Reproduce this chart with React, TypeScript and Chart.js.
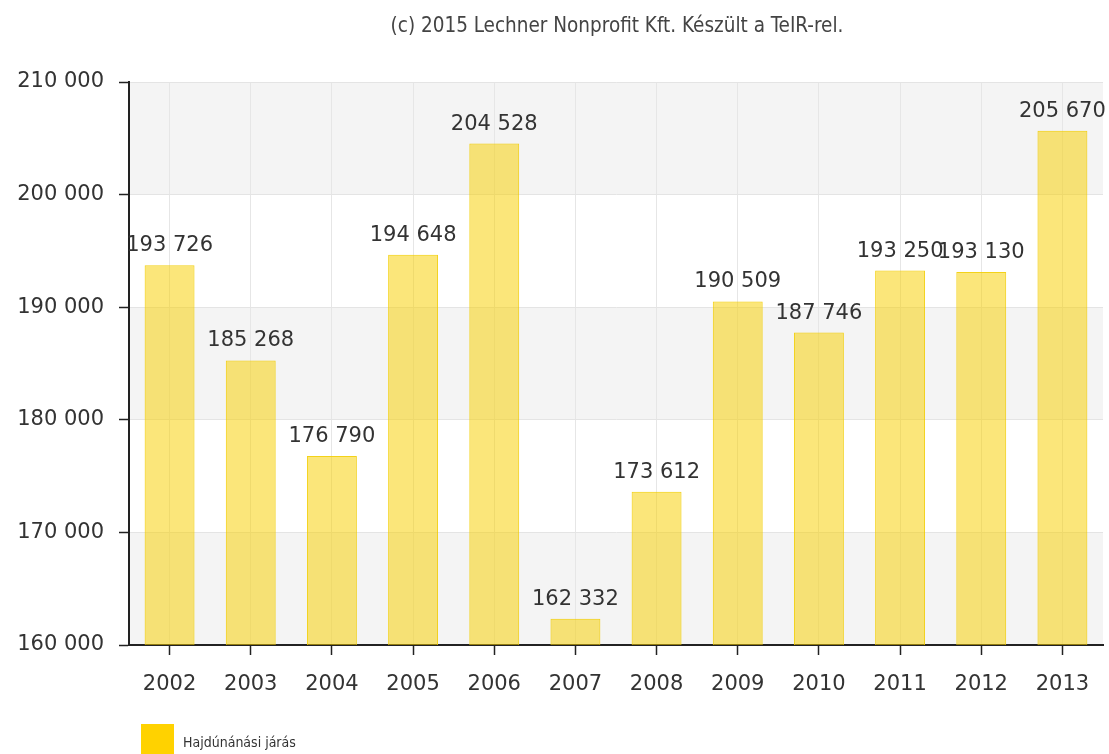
import React, { useEffect, useRef } from "react";
import { Chart, registerables } from "chart.js";

Chart.register(...registerables);

const categories = ["2002", "2003", "2004", "2005", "2006", "2007", "2008", "2009", "2010", "2011", "2012", "2013"];
const values = [193726, 185268, 176790, 194648, 204528, 162332, 173612, 190509, 187746, 193250, 193130, 205670];
const seriesLabel = "Hajdúnánási járás";
const titleText = "(c) 2015 Lechner Nonprofit Kft. Készült a TeIR-rel.";
const yMin = 160000;
const yMax = 210000;
const yStep = 10000;

const fmt = (v: number) => String(v).replace(/\B(?=(\d{3})+(?!\d))/g, " ");

const bandsPlugin = {
  id: "bands",
  beforeDraw(chart: any) {
    const { ctx, chartArea } = chart;
    const y = chart.scales.y;
    ctx.save();
    ctx.fillStyle = "#f4f4f4";
    let i = 0;
    for (let v = yMin; v < yMax; v += yStep, i++) {
      if (i % 2 === 0) {
        const top = y.getPixelForValue(v + yStep);
        const bot = y.getPixelForValue(v);
        ctx.fillRect(chartArea.left, top, chartArea.right - chartArea.left, bot - top);
      }
    }
    ctx.restore();
  },
};

const labelsPlugin = {
  id: "valueLabels",
  afterDatasetsDraw(chart: any) {
    const { ctx } = chart;
    const meta = chart.getDatasetMeta(0);
    ctx.save();
    ctx.font = "21px 'DejaVu Sans'";
    ctx.fillStyle = "#333333";
    ctx.textAlign = "center";
    ctx.textBaseline = "alphabetic";
    meta.data.forEach((bar: any, i: number) => {
      ctx.fillText(fmt(values[i]), bar.x, bar.y - 14);
    });
    ctx.restore();
  },
};

const titleLegendPlugin = {
  id: "titleLegend",
  afterDraw(chart: any) {
    const { ctx, chartArea } = chart;
    ctx.save();
    ctx.font = "20.5px 'DejaVu Sans Condensed'";
    ctx.fillStyle = "#444444";
    ctx.textAlign = "center";
    ctx.textBaseline = "alphabetic";
    ctx.fillText(titleText, 617, 32);
    // legend
    ctx.fillStyle = "#ffd200";
    ctx.fillRect(chartArea.left + 12, 724, 33, 30);
    ctx.font = "14px 'DejaVu Sans Condensed'";
    ctx.fillStyle = "#333333";
    ctx.textAlign = "left";
    ctx.fillText(seriesLabel, chartArea.left + 54, 747);
    ctx.restore();
  },
};

export default function App() {
  const ref = useRef<HTMLCanvasElement | null>(null);
  useEffect(() => {
    if (!ref.current) return;
    const chart = new Chart(ref.current, {
      type: "bar",
      data: {
        labels: categories,
        datasets: [
          {
            label: seriesLabel,
            data: values,
            backgroundColor: "rgba(248, 208, 0, 0.52)",
            borderColor: "rgba(242, 205, 0, 0.9)",
            borderWidth: 1,
            barPercentage: 0.615,
            categoryPercentage: 1,
          },
        ],
      },
      options: {
        animation: false,
        responsive: false,
        maintainAspectRatio: false,
        layout: { padding: { left: 0, top: 82, right: 6, bottom: 0 } },
        plugins: {
          legend: { display: false },
          title: { display: false },
          tooltip: { enabled: false },
        },
        scales: {
          x: {
            offset: true,
            grid: {
              offset: false,
              color: "#e6e6e6",
              lineWidth: 1,
              tickLength: 10,
              tickColor: "#222222",
              tickWidth: 1.5,
            },
            border: { color: "#222222", width: 2 },
            ticks: {
              color: "#333333",
              font: { family: "'DejaVu Sans'", size: 21 },
              padding: 17,
              maxRotation: 0,
            },
            afterFit(scale: any) {
              scale.height = 109;
            },
          },
          y: {
            min: yMin,
            max: yMax,
            grid: {
              color: "#e4e4e4",
              lineWidth: 1,
              tickLength: 10,
              tickColor: "#222222",
              tickWidth: 1.5,
            },
            border: { color: "#222222", width: 2 },
            ticks: {
              stepSize: yStep,
              color: "#333333",
              font: { family: "'DejaVu Sans'", size: 21 },
              padding: 15,
              callback: (v: any) => fmt(Number(v)),
            },
            afterFit(scale: any) {
              scale.width = 129;
            },
          },
        },
      },
      plugins: [bandsPlugin, labelsPlugin, titleLegendPlugin],
    });
    return () => chart.destroy();
  }, []);
  return (
    <div style={{ position: "fixed", left: 0, top: 0, width: 1109, height: 754, background: "#fff" }}>
      <canvas ref={ref} width={1109} height={754} style={{ width: 1109, height: 754, display: "block" }} />
    </div>
  );
}
